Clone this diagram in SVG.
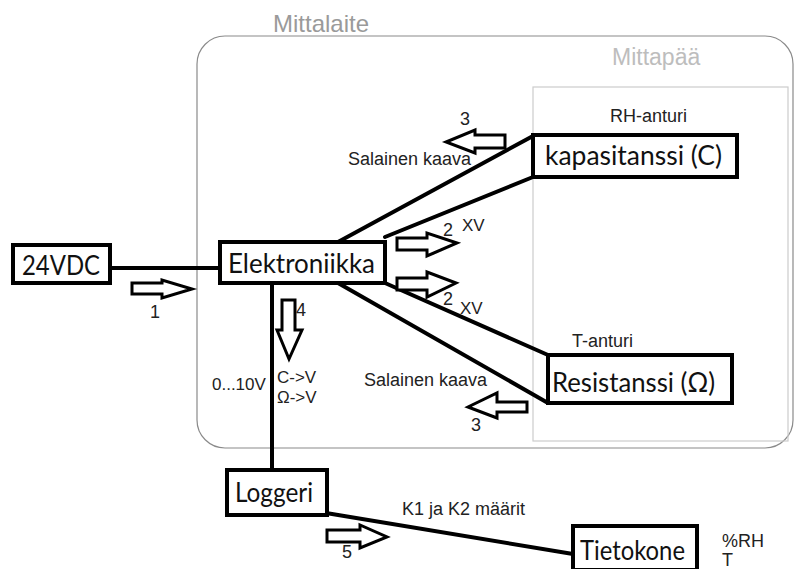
<svg xmlns="http://www.w3.org/2000/svg" width="797" height="569" viewBox="0 0 797 569">
<style>
  .box { fill: #fff; stroke: #000; stroke-width: 4; }
  .big { font-family: Lato, "Liberation Sans", sans-serif; font-size: 26px; fill: #111; }
  .lbl { font-family: "Liberation Sans", Arial, sans-serif; font-size: 17px; fill: #222; }
  .num { font-family: "Liberation Sans", Arial, sans-serif; font-size: 18px; fill: #222; }
  .wire { stroke: #000; stroke-width: 4; fill: none; stroke-linecap: round; }
  .harrow { fill: #fff; stroke: #000; stroke-width: 3; stroke-linejoin: miter; }
</style>
<rect width="797" height="569" fill="#fff"/>

<g id="mittalaite">
  <rect x="197" y="36" width="596" height="412" rx="28" ry="28" fill="none" stroke="#8a8a8a" stroke-width="1.2"/>
  <text x="273" y="32" font-family="Liberation Sans, Arial, sans-serif" font-size="24" fill="#9a9a9a">Mittalaite</text>
</g>
<g id="mittapaa">
  <rect x="533" y="87" width="255" height="354" fill="none" stroke="#cccccc" stroke-width="1.2"/>
  <text x="612" y="65" font-family="Liberation Sans, Arial, sans-serif" font-size="23" fill="#bdbdbd">Mittapää</text>
</g>

<g id="connectors">
  <line class="wire" x1="110" y1="268" x2="220" y2="268"/>
  <line class="wire" x1="338" y1="242" x2="533" y2="136"/>
  <line class="wire" x1="385" y1="237" x2="533" y2="177"/>
  <line class="wire" x1="385" y1="283" x2="548" y2="355"/>
  <line class="wire" x1="338" y1="283" x2="548" y2="403"/>
  <line class="wire" x1="272" y1="283" x2="272" y2="470"/>
  <line class="wire" x1="326" y1="513" x2="573" y2="554"/>
</g>

<g id="arrow1">
  <polygon class="harrow" points="132,283 162,283 162,280 192,289 162,298 162,294 132,294"/>
  <text class="num" x="150" y="318">1</text>
</g>
<g id="arrow2a">
  <polygon class="harrow" points="397,238 427,238 427,233 457,243 427,256 427,250 397,250"/>
  <text class="num" x="443" y="236">2</text>
  <text class="lbl" x="462" y="231" font-size="16">XV</text>
</g>
<g id="arrow2b">
  <polygon class="harrow" points="397,278 427,278 427,272 456,283 427,297 427,290 397,290"/>
  <text class="num" x="443" y="305">2</text>
  <text class="lbl" x="460" y="314" font-size="16">XV</text>
</g>
<g id="arrow3a">
  <polygon class="harrow" points="505,135 475,135 475,130 446,142 475,153 475,148 505,148"/>
  <text class="num" x="460" y="125">3</text>
  <text class="num" x="348" y="165">Salainen kaava</text>
</g>
<g id="arrow3b">
  <polygon class="harrow" points="527,402 497,402 497,393 468,407 497,418 497,412 527,412"/>
  <text class="num" x="471" y="431">3</text>
  <text class="num" x="364" y="386">Salainen kaava</text>
</g>
<g id="arrow4">
  <polygon class="harrow" points="282,300 295,300 295,330 302,330 289,359 277,330 282,330"/>
  <text class="num" x="296" y="316">4</text>
  <text class="lbl" x="277" y="383">C-&gt;V</text>
  <text class="lbl" x="277" y="403">Ω-&gt;V</text>
  <text class="lbl" x="212" y="390">0...10V</text>
</g>
<g id="arrow5">
  <polygon class="harrow" points="327,530 360,530 360,525 387,537 360,548 360,542 327,542"/>
  <text class="num" x="342" y="558">5</text>
  <text class="num" x="402" y="515">K1 ja K2 määrit</text>
</g>

<g id="n24vdc">
  <rect class="box" x="13" y="245" width="97" height="38"/>
  <text class="big" x="22" y="275" textLength="78" lengthAdjust="spacingAndGlyphs">24VDC</text>
</g>
<g id="elektroniikka">
  <rect class="box" x="220" y="242" width="165" height="41"/>
  <text class="big" x="228" y="273" textLength="147" lengthAdjust="spacingAndGlyphs">Elektroniikka</text>
</g>
<g id="kapasitanssi">
  <rect class="box" x="533" y="135" width="204" height="42"/>
  <text class="big" x="545" y="165" textLength="177" lengthAdjust="spacingAndGlyphs">kapasitanssi (C)</text>
  <text class="num" x="610" y="122">RH-anturi</text>
</g>
<g id="resistanssi">
  <rect class="box" x="548" y="355" width="184" height="48"/>
  <text class="big" x="552" y="392" textLength="163" lengthAdjust="spacingAndGlyphs">Resistanssi (Ω)</text>
  <text class="num" x="572" y="347">T-anturi</text>
</g>
<g id="loggeri">
  <rect class="box" x="227" y="470" width="100" height="45"/>
  <text class="big" x="235" y="502" textLength="78" lengthAdjust="spacingAndGlyphs">Loggeri</text>
</g>
<g id="tietokone">
  <rect class="box" x="573" y="526" width="124" height="44"/>
  <text class="big" x="580" y="560" textLength="105" lengthAdjust="spacingAndGlyphs">Tietokone</text>
</g>
<g id="outputs">
  <text class="num" x="722" y="547">%RH</text>
  <text class="num" x="722" y="566">T</text>
</g>
</svg>
